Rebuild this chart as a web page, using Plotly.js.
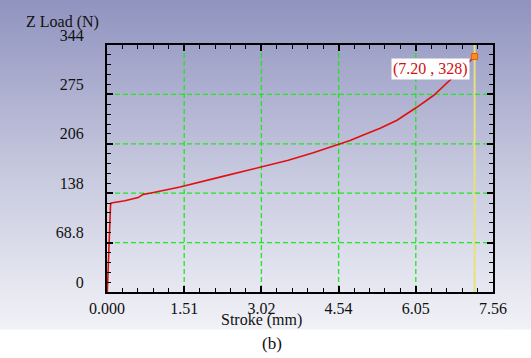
<!DOCTYPE html>
<html>
<head>
<meta charset="utf-8">
<script src="https://cdn.plot.ly/plotly-3.0.1.min.js"></script>
<style>
  html, body { margin: 0; padding: 0; }
  body {
    width: 531px; height: 358px; overflow: hidden;
    background: linear-gradient(to bottom, #9093bf 0px, #c6c8de 170px, #f1f2f7 329px, #ffffff 330px, #ffffff 358px);
  }
  #chart { width: 531px; height: 358px; }
  .xgrid, .ygrid { shape-rendering: geometricPrecision !important; }
</style>
</head>
<body>
<div id="chart"></div>
<script>
// Load vs stroke curve
const strokeMm = [0.006, 0.03, 0.05, 0.07, 0.085, 0.35, 0.61, 0.71, 0.84, 1.43, 2.27, 3.03, 3.55, 4.04, 4.37, 4.57, 4.76, 5.02, 5.35, 5.68, 6.06, 6.40, 6.72, 7.00, 7.20];
const loadN    = [0,     58,   107,  122,  124,   127,  131.5, 136, 137.5, 146.3, 161, 174.2, 183.5, 194, 201.3, 205.8, 211, 218.5, 228, 239.2, 256.9, 274, 295, 314, 328];

// Axis ticks
const xTickVals = [0, 1.512, 3.024, 4.536, 6.048, 7.56];
const xTickText = ["0.000", "1.51", "3.02", "4.54", "6.05", "7.56"];
const yTickVals = [0, 68.8, 137.6, 206.4, 275.2, 344];
const yTickText = ["0", "68.8", "138", "206", "275", "344"];
const minorDivisions = 5;

// Cursor readout
const cursorX = 7.20;
const cursorY = 328;

// Minor ticks: subdivisions between consecutive major ticks
function minorBetween(majors, n) {
  const out = [];
  for (let i = 0; i < majors.length - 1; i++) {
    const step = (majors[i + 1] - majors[i]) / n;
    for (let k = 1; k < n; k++) out.push(majors[i] + k * step);
  }
  return out;
}

const serif = "'Liberation Serif', 'Times New Roman', Times, serif";

const traces = [
  {
    x: strokeMm, y: loadN, type: "scatter", mode: "lines",
    line: { color: "#e01010", width: 1.6 },
    hoverinfo: "skip", showlegend: false
  },
  {
    x: [cursorX], y: [cursorY], type: "scatter", mode: "markers",
    marker: { symbol: "square", size: 6, color: "#ff8c1a", line: { color: "#e06000", width: 1 } },
    hoverinfo: "skip", showlegend: false
  }
];

const gridGreen = "#1ee81e";

const axisCommon = {
  showline: true, linecolor: "#000000", linewidth: 2, mirror: "allticks",
  ticks: "inside", ticklen: 6, tickwidth: 2, tickcolor: "#000000",
  showgrid: true, gridcolor: gridGreen, gridwidth: 1.3, griddash: "5px,3px",
  zeroline: false, tickmode: "array",
  tickfont: { family: serif, size: 16, color: "#111111" }
};

const minorCommon = {
  tickmode: "array", ticks: "inside", ticklen: 4, tickwidth: 1, tickcolor: "#000000",
  showgrid: false
};

const layout = {
  width: 531, height: 358,
  margin: { l: 107, r: 38, t: 45, b: 66, pad: 0 },
  paper_bgcolor: "rgba(0,0,0,0)",
  plot_bgcolor: "rgba(0,0,0,0)",
  showlegend: false,
  font: { family: serif },
  xaxis: Object.assign({}, axisCommon, {
    range: [0, 7.56], tickvals: xTickVals, ticktext: xTickText,
    ticklabelstandoff: 1,
    minor: Object.assign({}, minorCommon, { tickvals: minorBetween(xTickVals, minorDivisions) })
  }),
  yaxis: Object.assign({}, axisCommon, {
    range: [0, 344], tickvals: yTickVals, ticktext: yTickText,
    ticklabelstandoff: 18, ticklabelshift: -10,
    minor: Object.assign({}, minorCommon, { tickvals: minorBetween(yTickVals, minorDivisions) })
  }),
  shapes: [
    {
      type: "line", xref: "x", yref: "paper", x0: cursorX, x1: cursorX, y0: 0, y1: 1,
      line: { color: "#e6e27a", width: 2 }, layer: "below"
    }
  ],
  annotations: [
    {
      x: cursorX, y: cursorY, xref: "x", yref: "y",
      text: "(" + cursorX.toFixed(2) + " , " + cursorY + ")",
      showarrow: false, xanchor: "right", yanchor: "top", xshift: -5, yshift: -2,
      bgcolor: "#ffffff", borderpad: 1,
      font: { family: serif, size: 16, color: "#d01010" }
    },
    {
      x: -0.114, y: 1.094, xref: "paper", yref: "paper",
      text: "Z Load (N)", showarrow: false, xanchor: "center", yanchor: "middle",
      font: { family: serif, size: 16, color: "#111111" }
    },
    {
      x: 0.399, y: -0.115, xref: "paper", yref: "paper",
      text: "Stroke (mm)", showarrow: false, xanchor: "center", yanchor: "middle",
      font: { family: serif, size: 16, color: "#111111" }
    },
    {
      x: 0.427, y: -0.208, xref: "paper", yref: "paper",
      text: "(b)", showarrow: false, xanchor: "center", yanchor: "middle",
      font: { family: serif, size: 17, color: "#111111" }
    }
  ]
};

Plotly.newPlot("chart", traces, layout, { staticPlot: true, displayModeBar: false });
</script>
</body>
</html>
